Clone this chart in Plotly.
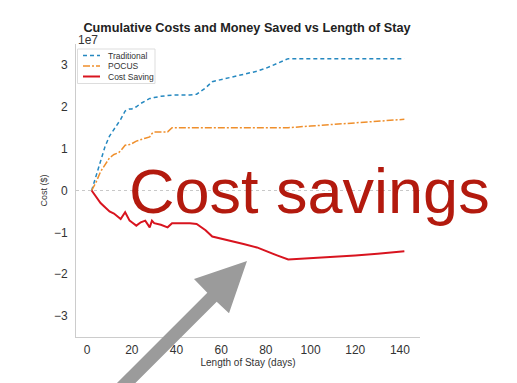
import plotly.graph_objects as go

# ---- data (costs in units of 1e7 $) ----
days = [2, 4, 6, 8, 10, 12, 14, 15, 17, 19, 20, 22, 24, 26, 28, 29, 30, 33, 36, 38,
        42, 46, 49, 53, 56, 60, 65, 70, 76, 80, 85, 90, 100, 110, 120, 130, 142]
traditional = [0, 0.35, 0.7, 1.05, 1.3, 1.45, 1.6, 1.7, 1.9, 1.95, 1.95, 2.0, 2.08, 2.15, 2.2, 2.2,
               2.22, 2.25, 2.27, 2.28, 2.28, 2.28, 2.3, 2.45, 2.6, 2.65, 2.7, 2.76, 2.85, 2.92,
               3.03, 3.15, 3.15, 3.15, 3.15, 3.15, 3.15]
pocus = [0, 0.2, 0.45, 0.62, 0.78, 0.86, 0.9, 0.95, 1.08, 1.1, 1.12, 1.18, 1.22, 1.25, 1.28, 1.36,
         1.4, 1.4, 1.4, 1.5, 1.5, 1.5, 1.5, 1.5, 1.5, 1.5, 1.5, 1.5, 1.5, 1.5, 1.5, 1.5,
         1.54, 1.58, 1.62, 1.66, 1.7]
cost_saving = [0, -0.15, -0.3, -0.4, -0.5, -0.55, -0.65, -0.68, -0.52, -0.72, -0.76, -0.84, -0.76,
               -0.72, -0.88, -0.72, -0.78, -0.82, -0.88, -0.78, -0.78, -0.78, -0.8, -0.95, -1.1,
               -1.15, -1.2, -1.28, -1.36, -1.45, -1.55, -1.65, -1.62, -1.58, -1.55, -1.51, -1.45]
y_ticks = [-3, -2, -1, 0, 1, 2, 3]
x_ticks = [0, 20, 40, 60, 80, 100, 120, 140]

W, H = 517, 383
L, R, T, B = 76, 97, 44, 46
PW, PH = W - L - R, H - T - B

def px(x):
    return (x - L) / PW

def py(y):
    return (H - B - y) / PH

C_TRAD = "#2588c0"
C_POC = "#ef8f2c"
C_SAVE = "#d8141f"
TXT = "#333333"

fig = go.Figure()
fig.add_trace(go.Scatter(x=days, y=traditional, mode="lines", name="Traditional",
                         line=dict(color=C_TRAD, width=1.5, dash="4px,3px")))
fig.add_trace(go.Scatter(x=days, y=pocus, mode="lines", name="POCUS",
                         line=dict(color=C_POC, width=1.5, dash="7px,2px,2px,2px")))
fig.add_trace(go.Scatter(x=days, y=cost_saving, mode="lines", name="Cost Saving",
                         line=dict(color=C_SAVE, width=2)))

shapes = []
# zero reference line
shapes.append(dict(type="line", xref="paper", yref="y", x0=0, x1=1, y0=0, y1=0,
                   line=dict(color="#c8c8c8", width=1, dash="dot"), layer="below"))

# manual legend
shapes.append(dict(type="rect", xref="paper", yref="paper",
                   x0=px(77.5), x1=px(155), y0=py(49), y1=py(83.5),
                   line=dict(color="#dddddd", width=1), fillcolor="rgba(255,255,255,0.9)"))
leg = [("Traditional", C_TRAD, "4px,3px", 1.5, 55.5),
       ("POCUS", C_POC, "7px,2px,2px,2px", 1.5, 66),
       ("Cost Saving", C_SAVE, "solid", 2, 76.5)]
annotations = []
for name, col, dash, w, yy in leg:
    shapes.append(dict(type="line", xref="paper", yref="paper", x0=px(83), x1=px(100),
                       y0=py(yy), y1=py(yy), line=dict(color=col, width=w, dash=dash)))
    annotations.append(dict(text=name, xref="paper", yref="paper", x=px(106), y=py(yy),
                            xanchor="left", yanchor="middle", showarrow=False,
                            font=dict(size=8.5, color=TXT, family="Liberation Sans")))

# big gray arrow
arrow_pts = [(247, 261), (194, 279), (207.3, 292.7), (100, 400), (118.4, 400),
             (216.7, 301.7), (229, 313.3)]
path = "M " + " L ".join(f"{px(a):.4f},{py(b):.4f}" for a, b in arrow_pts) + " Z"
shapes.append(dict(type="path", xref="paper", yref="paper", path=path,
                   fillcolor="#9b9b9b", line=dict(width=0)))

annotations.append(dict(text="1e7", xref="paper", yref="paper", x=0, y=py(40.5),
                        xanchor="left", yanchor="middle", showarrow=False,
                        font=dict(size=12, color=TXT, family="Liberation Sans")))
annotations.append(dict(text="Cost savings", xref="paper", yref="paper", x=px(309), y=py(191),
                        xanchor="center", yanchor="middle", showarrow=False,
                        font=dict(size=63, color="#b31a0e", family="Liberation Sans")))

fig.update_layout(
    width=W, height=H,
    margin=dict(l=L, r=R, t=T, b=B),
    paper_bgcolor="white", plot_bgcolor="white",
    showlegend=False,
    font=dict(color=TXT, family="Liberation Sans"),
    title=dict(text="<b>Cumulative Costs and Money Saved vs Length of Stay</b>",
               x=px(247), xref="paper", xanchor="center", y=1 - 27.5 / H, yanchor="middle",
               font=dict(size=12.7, color="#222222", family="Liberation Sans")),
    xaxis=dict(range=[-5, 149], tickvals=x_ticks, showgrid=False, zeroline=False,
               showline=True, linecolor="#cccccc", linewidth=1, ticks="",
               ticklabelstandoff=2,
               tickfont=dict(size=12, color=TXT, family="Liberation Sans"),
               title=dict(text="Length of Stay (days)", standoff=0,
                          font=dict(size=10, color=TXT, family="Liberation Sans"))),
    yaxis=dict(range=[-3.5, 3.5], tickvals=y_ticks, showgrid=False, zeroline=False,
               showline=True, linecolor="#cccccc", linewidth=1, ticks="",
               ticklabelstandoff=5,
               tickfont=dict(size=12, color=TXT, family="Liberation Sans"),
               title=dict(text="Cost ($)", standoff=4,
                          font=dict(size=9, color=TXT, family="Liberation Sans"))),
    shapes=shapes,
    annotations=annotations,
)

fig.write_html("out.html", config={"displayModeBar": False},
               post_script="document.body.style.margin='0';document.body.style.overflow='hidden';")
